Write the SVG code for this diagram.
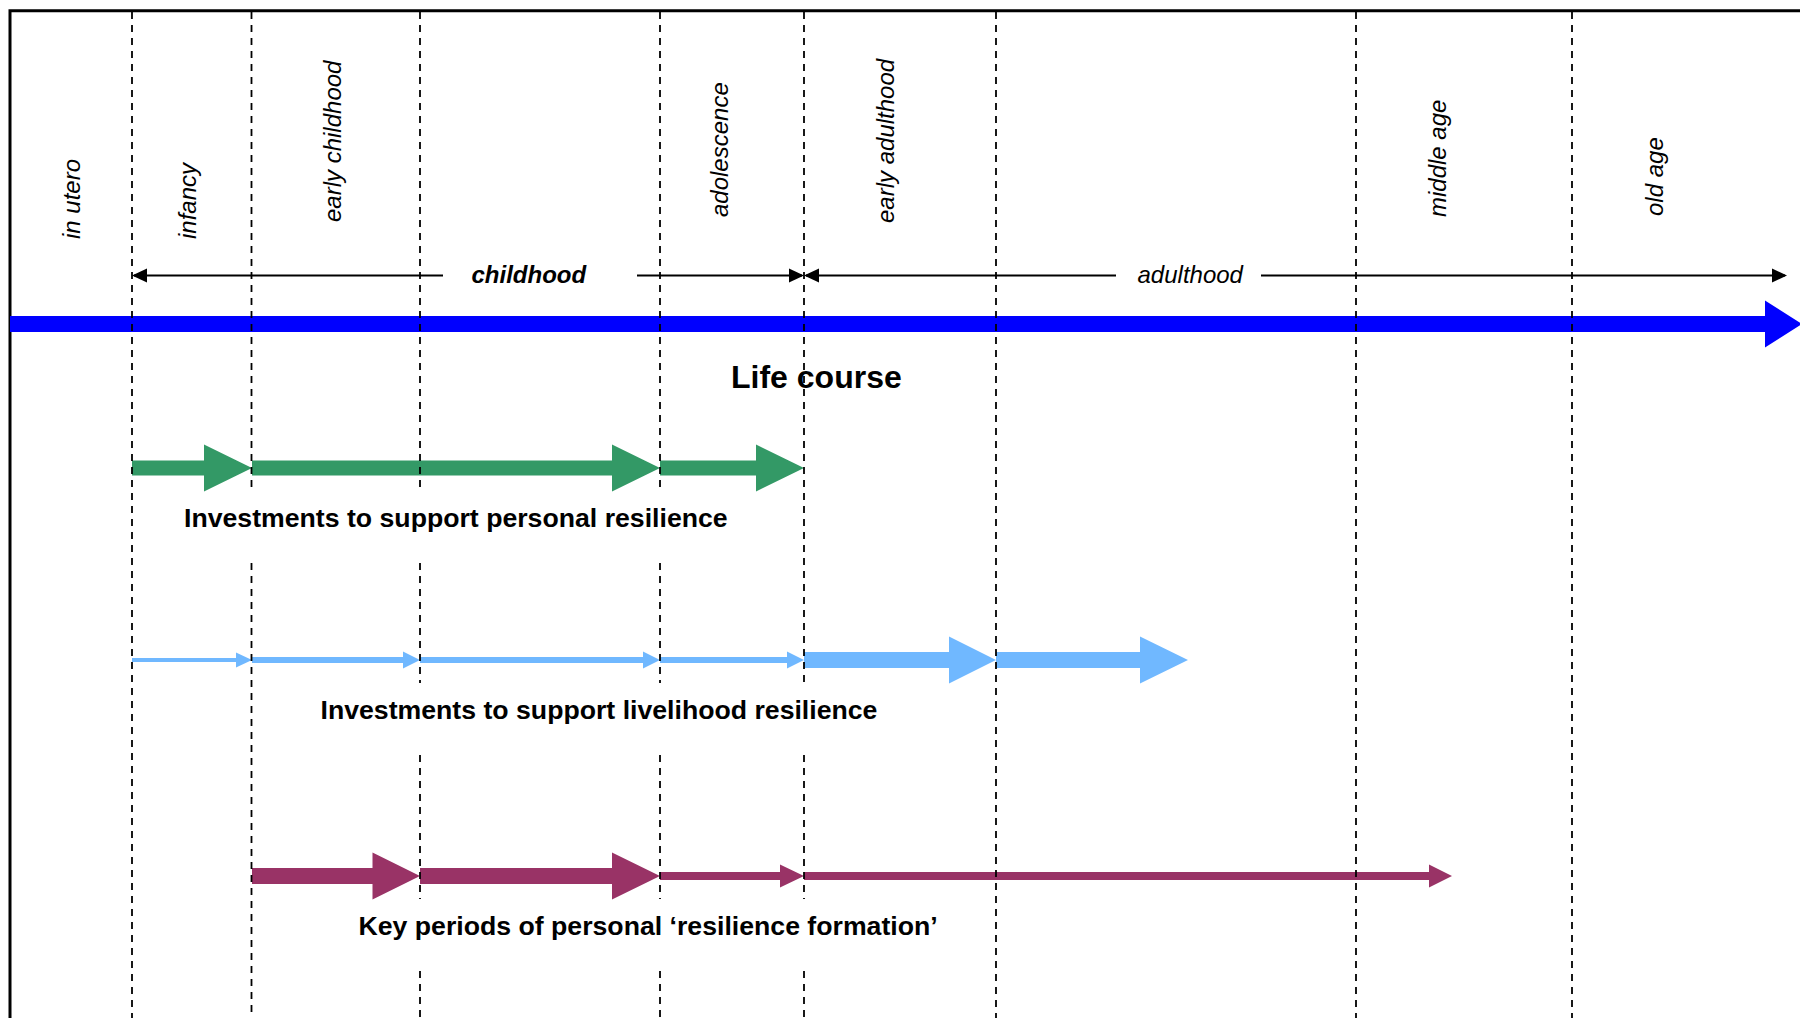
<svg xmlns="http://www.w3.org/2000/svg" width="1800" height="1018" viewBox="0 0 1800 1018">
<defs>
<style>
.stage{font-family:"Liberation Sans",Arial,sans-serif;font-size:24px;font-style:italic;fill:#000}
.span{font-family:"Liberation Sans",Arial,sans-serif;font-size:24px;font-style:italic;fill:#000}
.cap{font-family:"Liberation Sans",Arial,sans-serif;font-size:26.67px;font-weight:bold;fill:#000}
.title{font-family:"Liberation Sans",Arial,sans-serif;font-size:32px;font-weight:bold;fill:#000}
.grid{fill:none;stroke:#000;stroke-width:1.8;stroke-dasharray:7 6}
.spanline{fill:none;stroke:#000;stroke-width:2;marker-end:url(#ah)}
.green{fill:#339966}
.lblue{fill:#70B8FF}
.purple{fill:#993366}
.blue{fill:#0000FF}
</style>
<marker id="ah" markerUnits="userSpaceOnUse" markerWidth="15" markerHeight="14" refX="13" refY="7" orient="auto" overflow="visible">
<path d="M0,0 L15,7 L0,14 Z" fill="#000"/>
</marker>
</defs>
<rect x="0" y="0" width="1800" height="1018" fill="#fff"/>
<path id="frame" d="M10,1018 V10.8 H1800" fill="none" stroke="#000" stroke-width="3"/>

<g id="life-course-bar">
<polygon class="blue" points="10,316 1765,316 1765,300.5 1802,324 1765,347.5 1765,332 10,332"/>
<text class="title" x="731" y="388">Life course</text>
</g>

<g id="stage-labels">
<g id="in-utero"><text class="stage" transform="translate(80,239) rotate(-90)">in utero</text></g>
<g id="infancy"><text class="stage" transform="translate(196,239) rotate(-90)">infancy</text></g>
<g id="early-childhood"><text class="stage" transform="translate(341,222) rotate(-90)">early childhood</text></g>
<g id="adolescence"><text class="stage" transform="translate(728,217) rotate(-90)">adolescence</text></g>
<g id="early-adulthood"><text class="stage" transform="translate(894,223) rotate(-90)">early adulthood</text></g>
<g id="middle-age"><text class="stage" transform="translate(1446,217) rotate(-90)">middle age</text></g>
<g id="old-age"><text class="stage" transform="translate(1663,216) rotate(-90)">old age</text></g>
</g>

<g id="childhood-span">
<text class="span" x="471.5" y="283" font-weight="bold">childhood</text>
</g>
<g id="adulthood-span">
<text class="span" x="1137.5" y="283">adulthood</text>
</g>

<g id="personal-resilience">
<polygon class="green" points="132,460.5 204,460.5 204,444.5 252,468 204,491.5 204,475.5 132,475.5"/>
<polygon class="green" points="252,460.5 612,460.5 612,444.5 660,468 612,491.5 612,475.5 252,475.5"/>
<polygon class="green" points="660,460.5 756,460.5 756,444.5 804,468 756,491.5 756,475.5 660,475.5"/>
<text class="cap" x="184" y="527">Investments to support personal resilience</text>
</g>

<g id="livelihood-resilience">
<polygon class="lblue" points="132,658 236,658 236,652.5 252,660 236,667.5 236,662 132,662"/>
<polygon class="lblue" points="252,657 403,657 403,651.5 420,660 403,668.5 403,663 252,663"/>
<polygon class="lblue" points="420,657 643,657 643,651.5 660,660 643,668.5 643,663 420,663"/>
<polygon class="lblue" points="660,657 787,657 787,651.5 804,660 787,668.5 787,663 660,663"/>
<polygon class="lblue" points="804,652 949,652 949,636.5 996,660 949,683.5 949,668 804,668"/>
<polygon class="lblue" points="996,652 1140,652 1140,636.5 1188,660 1140,683.5 1140,668 996,668"/>
<text class="cap" x="320.5" y="719">Investments to support livelihood resilience</text>
</g>

<g id="resilience-formation">
<polygon class="purple" points="252,868 372.5,868 372.5,852.5 420,876 372.5,899.5 372.5,884 252,884"/>
<polygon class="purple" points="420,868 612,868 612,852.5 660,876 612,899.5 612,884 420,884"/>
<polygon class="purple" points="660,872 780,872 780,864.5 804,876 780,887.5 780,880 660,880"/>
<polygon class="purple" points="804,872 1429,872 1429,864.5 1452,876 1429,887.5 1429,880 804,880"/>
<text class="cap" x="358.5" y="935">Key periods of personal ‘resilience formation’</text>
</g>

<g id="connectors">
<path class="spanline" d="M443,275.5 H134"/>
<path class="spanline" d="M637,275.5 H802"/>
<path class="spanline" d="M1116,275.5 H806"/>
<path class="spanline" d="M1261,275.5 H1785"/>
<path class="grid" d="M132,12 V1018"/>
<path class="grid" d="M251.5,12 V491 M251.5,563 V1018"/>
<path class="grid" d="M420,12 V491 M420,563 V683 M420,755 V899 M420,971 V1018"/>
<path class="grid" d="M660,12 V491 M660,563 V683 M660,755 V899 M660,971 V1018"/>
<path class="grid" d="M804,12 V683 M804,755 V899 M804,971 V1018"/>
<path class="grid" d="M996,12 V1018"/>
<path class="grid" d="M1356,12 V1018"/>
<path class="grid" d="M1572,12 V1018"/>
</g>
</svg>
